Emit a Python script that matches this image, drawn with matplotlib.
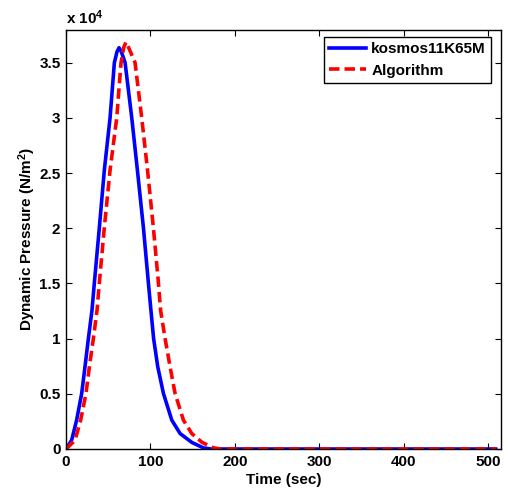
import matplotlib
matplotlib.use("Agg")
import matplotlib.pyplot as plt
from matplotlib.ticker import FuncFormatter, MultipleLocator

plt.rcParams['font.family'] = ['Liberation Sans', 'DejaVu Sans']
plt.rcParams['font.weight'] = 'bold'
plt.rcParams['mathtext.fontset'] = 'custom'
plt.rcParams['mathtext.rm'] = 'Liberation Sans:bold'
plt.rcParams['mathtext.bf'] = 'Liberation Sans:bold'
plt.rcParams['mathtext.default'] = 'bf'

# Data (pressure in N/m^2)
blue_t = [0, 6.7, 12.6, 18.6, 22.5, 26.5, 30.8, 33.6, 39.5, 45.4, 52.2, 57.3, 60.5, 62.8,
          65.5, 70, 77.9, 84.6, 91.7, 97.6, 100.6, 103.8, 108.7, 115.4, 125.3, 135.2, 149,
          162.8, 172, 509]
blue_p = [0, 800, 2620, 5040, 7450, 10000, 12580, 15050, 20060, 25250, 30000, 35000, 36000,
          36350, 36000, 35000, 30000, 25250, 20060, 15050, 12580, 10000, 7450, 5040, 2620,
          1400, 600, 100, 0, 0]

red_t = [0, 2.8, 10.7, 17.4, 23.7, 27.7, 32.4, 36.8, 39.5, 45.4, 52.2, 60.1, 65.2, 68.5,
         71.1, 74, 81.8, 89.7, 96.6, 103.5, 109.5, 112, 117.4, 123.3, 129.2, 139.1, 149,
         161.2, 175, 183, 509]
red_p = [0, 200, 800, 2620, 5040, 7450, 10000, 12580, 15050, 20060, 25250, 30000, 35000,
         36400, 36860, 36400, 35000, 30000, 25250, 20060, 15050, 12580, 10000, 7450, 5040,
         2620, 1400, 600, 100, 0, 0]

series_names = ['kosmos11K65M', 'Algorithm']

FS = 11

fig = plt.figure(figsize=(5.08, 4.91), dpi=100)
ax = fig.add_axes([66/508, 42/491, (500.7-66)/508, (449-29.5)/491])

ax.plot(blue_t, blue_p, color='#0000ff', lw=2.6, label=series_names[0], solid_joinstyle='round')
ax.plot(red_t, red_p, color='#ff0000', lw=2.6, ls=(0, (2.9, 1.4)), label=series_names[1])

ax.set_xlim(0, 515)
ax.set_ylim(0, 38000)
ax.xaxis.set_major_locator(MultipleLocator(100))
ax.yaxis.set_major_locator(MultipleLocator(5000))
ax.yaxis.set_major_formatter(FuncFormatter(lambda v, p: ('%g' % (v / 1e4))))

ax.tick_params(direction='in', length=4, width=0.8, top=True, right=True,
               labelsize=FS, pad=4)
for lab in ax.get_xticklabels() + ax.get_yticklabels():
    lab.set_fontweight('bold')
for s in ax.spines.values():
    s.set_linewidth(1.0)

ax.set_xlabel('Time (sec)', fontsize=FS, fontweight='bold', labelpad=3)
ax.set_ylabel(r'Dynamic Pressure (N/m$^2$)', fontsize=FS, fontweight='bold', labelpad=1)
ax.text(0, 1.0131, r'x 10$^4$', transform=ax.transAxes, ha='left', va='baseline',
        fontsize=FS, fontweight='bold')

leg = ax.legend(loc='upper right', bbox_to_anchor=(490.7/508, (491-37.3)/491),
                bbox_transform=fig.transFigure, fancybox=False, framealpha=1,
                edgecolor='black', fontsize=FS, handlelength=2.4, borderaxespad=0,
                borderpad=0.32, labelspacing=0.5, handletextpad=0.37)
leg.get_frame().set_linewidth(1.0)
for t in leg.get_texts():
    t.set_fontweight('bold')

fig.savefig('out.png', dpi=100)
